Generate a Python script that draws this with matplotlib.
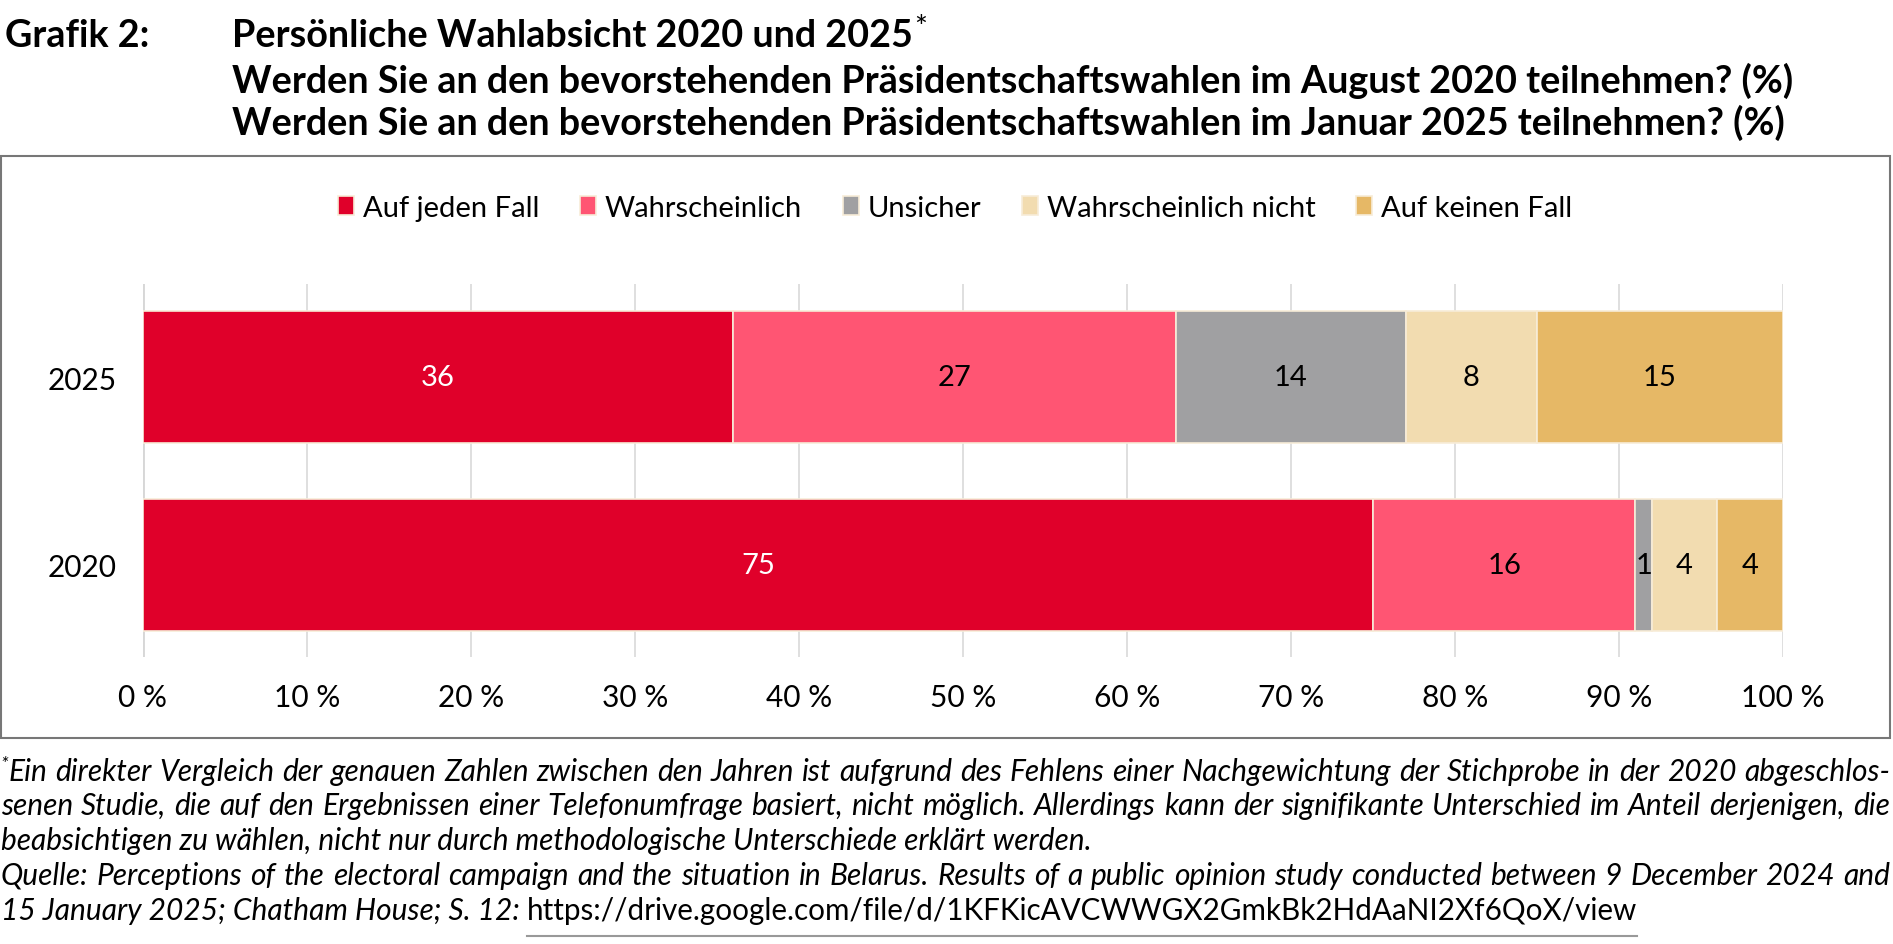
import matplotlib.pyplot as plt
import numpy as np
from matplotlib.lines import Line2D
from matplotlib.patches import Rectangle

plt.rcParams['font.family'] = ['Lato', 'DejaVu Sans']

# --- Daten ---
jahre = ['2020', '2025']
kategorien = ['Auf jeden Fall', 'Wahrscheinlich', 'Unsicher',
              'Wahrscheinlich nicht', 'Auf keinen Fall']
werte_2020 = [75, 16, 1, 4, 4]
werte_2025 = [36, 27, 14, 8, 15]
farben = ['#E0002A', '#FF5573', '#A0A0A2', '#F2DCB0', '#E6B866']
textfarben = ['white', 'black', 'black', 'black', 'black']
x_ticks = [0, 10, 20, 30, 40, 50, 60, 70, 80, 90, 100]

titel_links = 'Grafik 2:'
titel_zeilen = ['Persönliche Wahlabsicht 2020 und 2025',
                'Werden Sie an den bevorstehenden Präsidentschaftswahlen im August 2020 teilnehmen? (%)',
                'Werden Sie an den bevorstehenden Präsidentschaftswahlen im Januar 2025 teilnehmen? (%)']
fussnote = [
    'Ein direkter Vergleich der genauen Zahlen zwischen den Jahren ist aufgrund des Fehlens einer Nachgewichtung der Stichprobe in der 2020 abgeschlos-',
    'senen Studie, die auf den Ergebnissen einer Telefonumfrage basiert, nicht möglich. Allerdings kann der signifikante Unterschied im Anteil derjenigen, die',
    'beabsichtigen zu wählen, nicht nur durch methodologische Unterschiede erklärt werden.',
    'Quelle: Perceptions of the electoral campaign and the situation in Belarus. Results of a public opinion study conducted between 9 December 2024 and',
    '15 January 2025; Chatham House; S. 12:',
]
url = 'https://drive.google.com/file/d/1KFKicAVCWWGX2GmkBk2HdAaNI2Xf6QoX/view'

W, H = 1893, 945
fig = plt.figure(figsize=(W / 100, H / 100), dpi=100)
renderer = fig.canvas.get_renderer()

def fx(px):
    return px / W

def fy(py):
    return 1 - py / H

# --- Diagramm ---
ax = fig.add_axes([fx(143), fy(658), fx(1783) - fx(143), fy(285) - fy(658)])
werte = np.array([werte_2020, werte_2025])
links = np.zeros(len(jahre))
for i, kat in enumerate(kategorien):
    balken = ax.barh(jahre, werte[:, i], left=links, height=0.7, color=farben[i],
                     edgecolor='#F7ECD8', linewidth=1.2, label=kat, zorder=3)
    ax.bar_label(balken, labels=[str(v) for v in werte[:, i]], label_type='center',
                 color=textfarben[i], fontsize=21)
    links += werte[:, i]

ax.set_xlim(0, 100)
ax.set_ylim(-0.49, 1.495)
ax.set_xticks(x_ticks)
ax.set_xticklabels([f'{v} %' for v in x_ticks])
ax.tick_params(axis='both', length=0, labelsize=21.5)
ax.tick_params(axis='x', pad=19)
ax.tick_params(axis='y', pad=19)
ax.grid(axis='x', color='#D9D9D9', linewidth=1.2, zorder=0)
ax.axvline(0, color='#D0D0D0', linewidth=2.6, zorder=1)
for s in ax.spines.values():
    s.set_visible(False)

h, l = ax.get_legend_handles_labels()
fig.legend(h, l, ncol=5, loc='center', bbox_to_anchor=(fx(955), fy(209)),
           frameon=False, fontsize=21, handlelength=0.55, handleheight=0.6,
           handletextpad=0.3, columnspacing=1.4)

# Rahmen
fig.add_artist(Rectangle((fx(1), fy(739)), fx(1889), (739 - 157) / H,
                         transform=fig.transFigure, fill=False,
                         edgecolor='#777777', linewidth=1.5))

# --- Titel ---
fig.text(fx(5), fy(36), titel_links, fontsize=27.2, weight='bold', va='center')
for k, (zeile, y) in enumerate(zip(titel_zeilen, [36, 81, 123])):
    t = fig.text(fx(232), fy(y), zeile, fontsize=27.2, weight='bold', va='center')
    if k == 0:
        b = t.get_window_extent(renderer)
        fig.text(fx(b.x1 + 1), fy(y - 8), '*', fontsize=22, va='center')

# --- Fussnote (Blocksatz) ---
def zeile_blocksatz(text, y, x0, x1, **kw):
    woerter = text.split(' ')
    objs = [fig.text(0, fy(y), w, va='baseline', **kw) for w in woerter]
    breiten = [o.get_window_extent(renderer).width for o in objs]
    luecke = (x1 - x0 - sum(breiten)) / (len(woerter) - 1)
    x = x0
    for o, b in zip(objs, breiten):
        o.set_x(fx(x))
        x += b + luecke

stil = dict(fontsize=21.5, style='italic')
basis = [781, 815, 850, 885, 920]
fig.text(fx(0), fy(basis[0] - 11), '*', fontsize=14, style='italic', va='baseline')
zeile_blocksatz(fussnote[0], basis[0], 9, 1890, **stil)
zeile_blocksatz(fussnote[1], basis[1], 1, 1890, **stil)
fig.text(fx(1), fy(basis[2]), fussnote[2], va='baseline', **stil)
zeile_blocksatz(fussnote[3], basis[3], 1, 1890, **stil)
t = fig.text(fx(1), fy(basis[4]), fussnote[4] + ' ', va='baseline', **stil)
b = t.get_window_extent(renderer)
u = fig.text(fx(b.x1), fy(basis[4]), url, va='baseline', fontsize=21.3)
bu = u.get_window_extent(renderer)
fig.add_artist(Line2D([fx(bu.x0), fx(bu.x1)], [fy(937), fy(937)],
                      transform=fig.transFigure, color='#999999', linewidth=1.5))

fig.savefig('out.png', dpi=100)
